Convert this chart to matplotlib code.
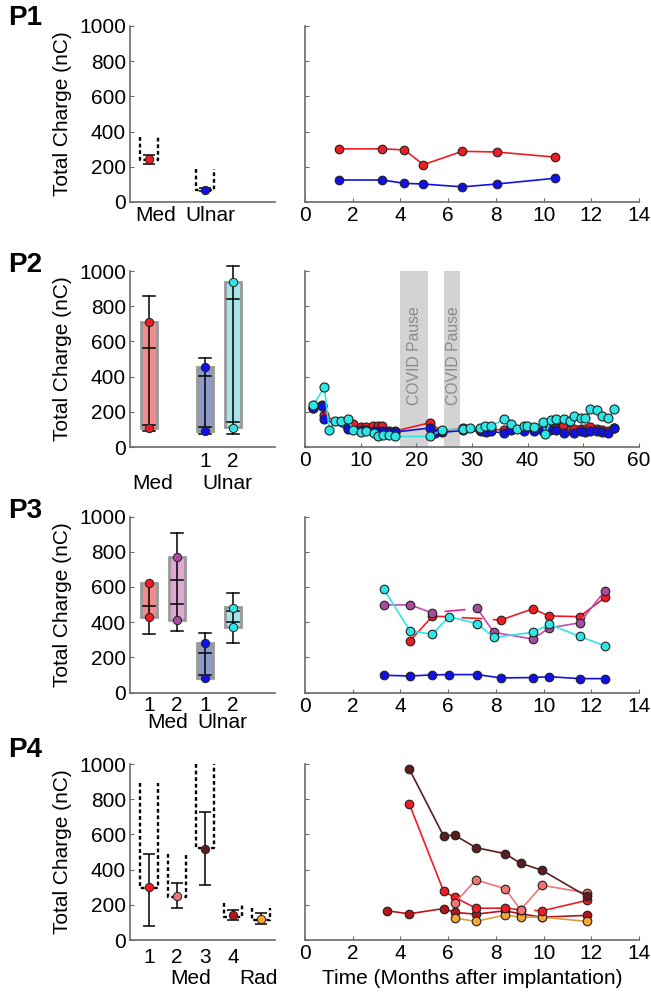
import matplotlib
matplotlib.use('Agg')
import matplotlib.pyplot as plt
from matplotlib.patches import Rectangle
import numpy as np

plt.rcParams['font.family'] = ['Liberation Sans', 'DejaVu Sans']

FS = 15
SPINE = '#6b6b6b'

# ---------------- colours ----------------
C_RED = '#ee1c24'
C_BLUE = '#1010e8'
C_CYAN = '#2de6e6'
C_PURP = '#a64d9d'
C_MAG = '#e0208a'
C_BROWN = '#5a1e1e'
C_SALMON = '#f07575'
C_DRED = '#b3151b'
C_ORANGE = '#f7a535'

# ---------------- P1 data ----------------
p1_pos = [1, 3]
p1_labels = ['Med', 'Ulnar']
p1_mean = [244, 68]
p1_err_lo = [214, 62]
p1_err_hi = [268, 80]
p1_dot_lo = [240, 66]
p1_dot_hi = [372, 187]
p1_t = [1.44, 3.24, 4.17, 4.96, 6.59, 8.03, 10.49]
p1_med = [302, 302, 296, 212, 288, 284, 255]
p1_uln = [125, 125, 106, 102, 86, 102, 135]

# ---------------- P2 data ----------------
p2_pos = [1, 3, 4]
p2_box_lo = [106, 93, 112]
p2_box_hi = [713, 457, 936]
p2_pts = [[709, 106], [454, 89], [936, 108]]
p2_line_lo = [89, 74, 76]
p2_line_hi = [858, 505, 1030]
p2_caps = [[858, 565, 125, 89], [505, 406, 112, 74], [1030, 839, 140, 76]]
p2_covid = [(17.0, 22.1), (24.9, 27.9)]

p2_red_t = [1.38, 3.1, 3.47, 7.72, 8.68, 10.06, 11.0, 12.3, 13.05, 13.8, 15.15, 16.2,
            22.45, 24.55, 28.4, 31.4, 32.5, 33.4, 35.75, 37.0, 39.3, 41.1, 43.0, 44.1,
            45.1, 46.4, 47.6, 48.4, 49.6, 50.3, 51.25, 52.4, 53.35, 54.5, 55.55]
p2_red_v = [219, 236, 181, 108, 130, 112, 112, 117, 117, 117, 91, 91,
            138, 90, 108, 98, 100, 100, 98, 110, 108, 106, 100, 108,
            108, 117, 98, 100, 102, 102, 112, 104, 98, 92, 106]
p2_blue_t = [1.38, 3.1, 3.47, 7.72, 10.0, 11.0, 12.4, 13.1, 14.0, 15.1, 16.2,
             22.45, 23.4, 24.55, 28.4, 31.7, 32.5, 33.4, 35.75, 37.0, 39.3, 41.1,
             42.75, 44.0, 45.1, 46.5, 48.4, 49.6, 50.3, 51.25, 52.4, 53.35, 54.5, 55.55]
p2_blue_v = [219, 234, 159, 100, 95, 95, 92, 92, 90, 85, 85,
             108, 79, 83, 94, 89, 88, 89, 79, 96, 92, 92,
             89, 96, 96, 79, 79, 92, 87, 92, 92, 83, 79, 109]
p2_cyan_t = [1.5, 3.47, 4.37, 5.33, 6.52, 7.72, 8.62, 10.0, 11.0, 12.4, 13.1, 14.0, 15.1,
             16.2, 22.45, 24.55, 28.4, 29.7, 31.4, 32.3, 33.4, 35.75, 37.0, 38.1, 39.3,
             39.9, 41.1, 42.75, 43.2, 44.1, 45.1, 46.5, 47.6, 48.4, 49.6, 50.3, 51.25,
             52.4, 53.35, 54.5, 55.55]
p2_cyan_v = [238, 340, 98, 147, 147, 159, 96, 87, 90, 81, 60, 70, 70,
             60, 60, 98, 102, 106, 106, 117, 117, 159, 130, 102, 121,
             117, 111, 140, 75, 151, 159, 159, 149, 174, 166, 162, 217,
             208, 179, 162, 217]

# ---------------- P3 data ----------------
p3_pos = [1, 2, 3, 4]
p3_box_lo = [427, 410, 83, 372]
p3_box_hi = [624, 769, 282, 486]
p3_pts = [[624, 427], [769, 410], [282, 83], [480, 372]]
p3_line_lo = [331, 352, 83, 280]
p3_line_hi = [624, 904, 336, 567]
p3_caps = [[491, 331], [904, 637, 505, 352], [336, 227, 98], [567, 462, 400, 280]]

p3_blue_t = [3.30, 4.40, 5.34, 6.03, 7.21, 8.21, 9.54, 10.24, 11.51, 12.57]
p3_blue_v = [98, 94, 100, 102, 102, 83, 85, 90, 79, 79]
p3_red_t = [4.40, 5.34, 6.03, np.nan, 6.6, 7.4, np.nan, 7.9, 8.21, 9.54, 10.24, 11.51, 12.57]
p3_red_v = [294, 433, 431, np.nan, 425, 420, np.nan, 414, 412, 475, 435, 431, 540]
p3_red_mk = [1, 1, 0, 0, 0, 0, 0, 0, 1, 1, 1, 1, 1]
p3_purp_t = [3.30, 4.40, 5.34, np.nan, 7.21, 7.91, 9.54, 10.24, 11.51, 12.57]
p3_purp_v = [498, 498, 452, np.nan, 479, 342, 304, 367, 396, 579]
p3_mag_t = [5.88, 6.69]
p3_mag_v = [461, 471]
p3_cyan_t = [3.30, 4.40, 5.34, 6.03, 7.21, 7.91, 9.54, 10.24, 11.51, 12.57]
p3_cyan_v = [588, 350, 331, 431, 392, 313, 342, 387, 319, 265]

# ---------------- P4 data ----------------
p4_pos = [1, 2, 3, 4, 5]
p4_mean = [299, 251, 520, 140, 119]
p4_err_lo = [79, 181, 314, 115, 89]
p4_err_hi = [491, 325, 728, 168, 151]
p4_dot_lo = [295, 246, 525, 132, 112]
p4_dot_hi = [890, 491, 1000, 210, 183]

p4_brown_t = [4.37, 5.81, 6.27, 7.16, 8.38, 9.04, 9.94, 11.8]
p4_brown_v = [972, 591, 596, 525, 491, 436, 396, 249]
p4_red_t = [4.37, 5.81, 6.27, 7.16, 8.38, 9.04, np.nan, 9.64, 9.94, 11.8]
p4_red_v = [774, 277, 243, 181, 181, 172, np.nan, 168, 166, 225]
p4_red_mk = [1, 1, 1, 1, 1, 1, 0, 0, 1, 1]
p4_salmon_t = [6.27, 7.16, 8.38, 9.04, 9.94, 11.8]
p4_salmon_v = [209, 342, 292, 172, 311, 268]
p4_dred_t = [3.45, 4.37, 5.81, 6.27, 7.16, 8.38, 9.04, 9.94, 11.8]
p4_dred_v = [166, 149, 179, 157, 147, 166, 149, 130, 140]
p4_orange_t = [6.27, 7.16, 8.38, 9.04, 9.94, 11.8]
p4_orange_v = [125, 106, 142, 130, 130, 106]

yticks = [0, 200, 400, 600, 800, 1000]

# ---------------- figure ----------------
fig = plt.figure(figsize=(6.51, 9.96), dpi=100)
H = 0.1767
bottoms = [0.7972, 0.5512, 0.3047, 0.0562]
LX, LW = 0.1997, 0.2227
RX, RW = 0.4685, 0.5131


def style(ax):
    for s in ['top', 'right']:
        ax.spines[s].set_visible(False)
    for s in ['left', 'bottom']:
        ax.spines[s].set_color(SPINE)
        ax.spines[s].set_linewidth(1.2)
    ax.tick_params(direction='in', length=3, color=SPINE, labelsize=FS, pad=3)
    ax.set_ylim(0, 1000)
    ax.set_yticks(yticks)


def left_axes(b):
    ax = fig.add_axes([LX, b, LW, H])
    style(ax)
    ax.set_xlim(0.32, 5.5)
    ax.set_xticks([])
    ax.set_ylabel('Total Charge (nC)', fontsize=FS, labelpad=5)
    return ax


def right_axes(b, xmax, xstep):
    ax = fig.add_axes([RX, b, RW, H])
    style(ax)
    ax.set_xlim(0, xmax)
    ax.set_xticks(np.arange(0, xmax + 1, xstep))
    ax.set_yticklabels([])
    return ax


def dotted_panel(ax, pos, mean, elo, ehi, dlo, dhi, cols):
    for p, m, lo, hi, a, b, c in zip(pos, mean, elo, ehi, dlo, dhi, cols):
        ax.plot([p - 0.32, p - 0.32, p + 0.32, p + 0.32], [b, a, a, b], color='k',
                lw=1.7, ls=(0, (1.6, 1.2)), clip_on=False, zorder=2)
        ax.errorbar(p, m, yerr=[[m - lo], [hi - m]], fmt='none', ecolor='k',
                    elinewidth=1.1, capsize=4.3, capthick=1.1, zorder=3)
        ax.plot(p, m, 'o', ms=6, mfc=c, mec='#222222', mew=0.7, zorder=4)


def box_panel(ax, pos, blo, bhi, pts, llo, lhi, caps, fills, cols):
    for i, p in enumerate(pos):
        ax.add_patch(Rectangle((p - 0.3, blo[i]), 0.6, bhi[i] - blo[i], facecolor=fills[i],
                               edgecolor='#999999', lw=2, zorder=1))
        ax.plot([p, p], [llo[i], lhi[i]], color='k', lw=1.1, zorder=2, clip_on=False)
        for cv in caps[i]:
            ax.plot([p - 0.22, p + 0.22], [cv, cv], color='k', lw=1.1, zorder=2,
                    clip_on=False)
        ax.plot([p] * len(pts[i]), pts[i], 'o', ms=6, mfc=cols[i], mec='#222222',
                mew=0.7, zorder=4, ls='none')


def series(ax, t, v, c, ms=6.2, mk=None, lc=None, z=3):
    t = np.asarray(t, float)
    v = np.asarray(v, float)
    ax.plot(t, v, '-', color=lc or c, lw=1.2, zorder=z)
    if mk is None:
        mk = ~np.isnan(t)
    else:
        mk = np.asarray(mk, bool)
    ax.plot(t[mk], v[mk], 'o', ms=ms, mfc=c, mec='#222222', mew=0.8, ls='none', zorder=z)


def cat_text(ax, x, y, s):
    ax.text(x, y, s, transform=ax.get_xaxis_transform(), ha='center', va='center',
            fontsize=FS)


# ---- P1 ----
ax = left_axes(bottoms[0])
dotted_panel(ax, p1_pos, p1_mean, p1_err_lo, p1_err_hi, p1_dot_lo, p1_dot_hi, [C_RED, C_BLUE])
cat_text(ax, 1.22, -0.074, p1_labels[0])
cat_text(ax, 3.2, -0.074, p1_labels[1])
ax = right_axes(bottoms[0], 14, 2)
series(ax, p1_t, p1_med, C_RED)
series(ax, p1_t, p1_uln, C_BLUE)

# ---- P2 ----
ax = left_axes(bottoms[1])
box_panel(ax, p2_pos, p2_box_lo, p2_box_hi, p2_pts, p2_line_lo, p2_line_hi, p2_caps,
          ['#f28b8b', '#8e9bcb', '#a9e3ea'], [C_RED, C_BLUE, C_CYAN])
cat_text(ax, 3, -0.085, '1')
cat_text(ax, 4, -0.085, '2')
cat_text(ax, 1.14, -0.205, 'Med')
cat_text(ax, 3.8, -0.205, 'Ulnar')
ax = right_axes(bottoms[1], 60, 10)
for a, b in p2_covid:
    ax.axvspan(a, b, color='#d3d3d3', lw=0, zorder=0)
    ax.text((a + b) / 2 + 0.2, 520, 'COVID Pause', rotation=90, ha='center', va='center',
            fontsize=11.3, color='#8a8a8a', zorder=1)
series(ax, p2_red_t, p2_red_v, C_RED, ms=6.5)
series(ax, p2_blue_t, p2_blue_v, C_BLUE, ms=6.5)
series(ax, p2_cyan_t, p2_cyan_v, C_CYAN, ms=6.5)

# ---- P3 ----
ax = left_axes(bottoms[2])
box_panel(ax, p3_pos, p3_box_lo, p3_box_hi, p3_pts, p3_line_lo, p3_line_hi, p3_caps,
          ['#f28b8b', '#dea8d3', '#8e9bcb', '#a9e3ea'], [C_RED, C_PURP, C_BLUE, C_CYAN])
for p, s in zip(p3_pos, ['1', '2', '1', '2']):
    cat_text(ax, p, -0.071, s)
cat_text(ax, 1.67, -0.173, 'Med')
cat_text(ax, 3.63, -0.173, 'Ulnar')
ax = right_axes(bottoms[2], 14, 2)
series(ax, p3_blue_t, p3_blue_v, C_BLUE)
series(ax, p3_red_t, p3_red_v, C_RED, mk=p3_red_mk)
ax.plot(p3_mag_t, p3_mag_v, '-', color=C_MAG, lw=1.2, zorder=3)
series(ax, p3_purp_t, p3_purp_v, C_PURP, lc='#c64bb0')
series(ax, p3_cyan_t, p3_cyan_v, C_CYAN)

# ---- P4 ----
ax = left_axes(bottoms[3])
dotted_panel(ax, p4_pos, p4_mean, p4_err_lo, p4_err_hi, p4_dot_lo, p4_dot_hi,
             [C_RED, C_SALMON, C_BROWN, C_DRED, C_ORANGE])
for p, s in zip(p4_pos[:4], ['1', '2', '3', '4']):
    cat_text(ax, p, -0.097, s)
cat_text(ax, 2.47, -0.216, 'Med')
cat_text(ax, 4.92, -0.216, 'Rad')
ax = right_axes(bottoms[3], 14, 2)
series(ax, p4_dred_t, p4_dred_v, C_DRED)
series(ax, p4_orange_t, p4_orange_v, C_ORANGE, lc='#d8a040')
series(ax, p4_red_t, p4_red_v, C_RED, mk=p4_red_mk)
series(ax, p4_salmon_t, p4_salmon_v, C_SALMON)
series(ax, p4_brown_t, p4_brown_v, C_BROWN)
ax.set_xlabel('Time (Months after implantation)', fontsize=FS, labelpad=4)

# ---- panel letters ----
for lab, ytop in zip(['P1', 'P2', 'P3', 'P4'], [5, 252, 498, 737]):
    fig.text(0.013, 1 - ytop / 996, lab, fontsize=20, fontweight='bold', va='top', ha='left')

fig.savefig('out.png', dpi=100)
